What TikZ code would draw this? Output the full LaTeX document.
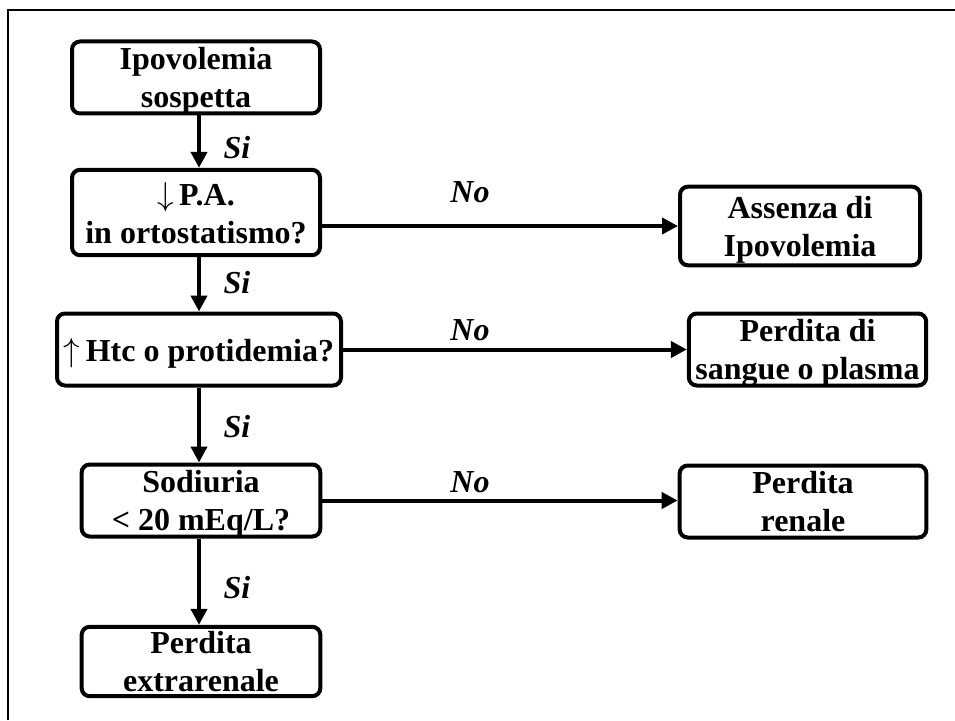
\documentclass[tikz,border=0pt]{standalone}
\usepackage{fontspec}
\setmainfont{Liberation Serif}
\usetikzlibrary{arrows.meta}
\begin{document}
\begin{tikzpicture}[x=0.75pt,y=-0.75pt,
  box/.style={draw, line width=3pt, rounded corners=6pt, inner sep=0pt, align=center, text depth=0pt,
    font=\fontsize{24}{28.5}\selectfont\bfseries},
  arr/.style={line width=3pt, -{Triangle[length=12pt,width=12pt]}},
  lab/.style={font=\fontsize{24}{28.5}\selectfont\bfseries\itshape, inner sep=0pt}]
\useasboundingbox (0,0) rectangle (955,720);
\draw[line width=1.8pt] (8,720) -- (8,10) -- (955,10);
\node[box, minimum width=186pt, minimum height=54pt] (b1) at (196,77.5) {Ipovolemia\\sospetta};
\node[box, minimum width=186pt, minimum height=64pt] (b2) at (196,212.5) {$\downarrow$\,P.A.\\in ortostatismo?};
\node[box, minimum width=213pt, minimum height=54pt] (b3) at (199,349.5) {$\uparrow$\,Htc o protidemia?};
\node[box, minimum width=179pt, minimum height=54pt] (b4) at (201,500.5) {Sodiuria\\< 20 mEq/L?};
\node[box, minimum width=179pt, minimum height=52pt] (b5) at (201,661.5) {Perdita\\extrarenale};
\node[box, minimum width=180pt, minimum height=59pt] (b6) at (800,226) {Assenza di\\Ipovolemia};
\node[box, minimum width=178pt, minimum height=54pt] (b7) at (807.5,349.5) {Perdita di\\sangue o plasma};
\node[box, minimum width=185pt, minimum height=54pt] (b8) at (803,501.5) {Perdita\\renale};
\coordinate (c1) at (199,0);
\draw[arr] (b1.south -| c1) -- (b2.north -| c1);
\draw[arr] (b2.south -| c1) -- (b3.north -| c1);
\draw[arr] (b3.south -| c1) -- (b4.north -| c1);
\draw[arr] (b4.south -| c1) -- (b5.north -| c1);
\draw[arr] (b2.east |- b6.west) -- (b6.west);
\draw[arr] (b3.east) -- (b7.west);
\draw[arr] (b4.east) -- (b8.west |- b4.east);
\node[lab] (s1) at (237,148) {Si};
\node[lab] (s2) at (237,283) {Si};
\node[lab] (s3) at (237,427) {Si};
\node[lab] (s4) at (237,588) {Si};
\node[lab] (n1) at (470,192) {No};
\node[lab] (n2) at (470,330) {No};
\node[lab] (n3) at (470,482) {No};
\end{tikzpicture}
\end{document}
